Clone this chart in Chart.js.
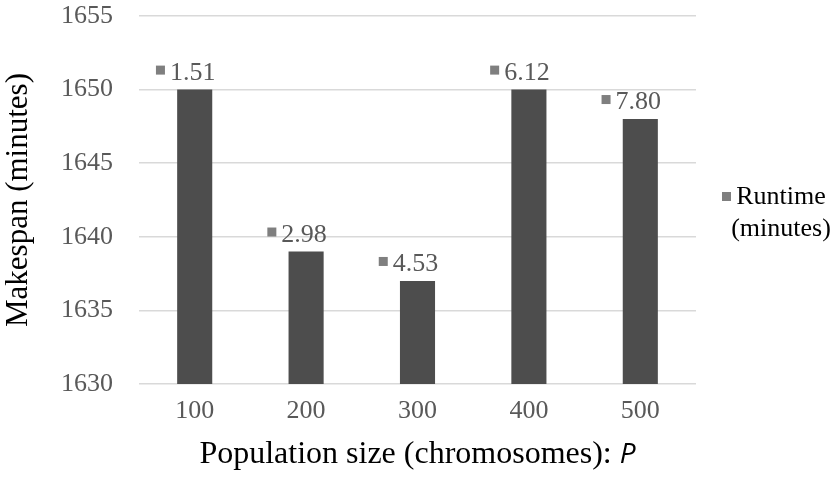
<!DOCTYPE html>
<html>
<head>
<meta charset="utf-8">
<script src="https://cdn.jsdelivr.net/npm/chart.js@4.4.1/dist/chart.umd.min.js"></script>
<style>
  html, body { margin: 0; padding: 0; background: #ffffff; }
  #wrap { width: 833px; height: 479px; position: relative; }
</style>
</head>
<body>
<div id="wrap"><canvas id="c" width="833" height="479"></canvas></div>
<script>
// Population sizes tested
const populationSizes = ['100', '200', '300', '400', '500'];
// Best makespan found for each population size (minutes)
const makespan = [1650, 1639, 1637, 1650, 1648];
// Runtime of each run (minutes), shown above the bars
const runtime = [1.51, 2.98, 4.53, 6.12, 7.80];
// Value axis range
const yMin = 1630, yMax = 1655, yStep = 5;

const SERIF = '"Liberation Serif", "Times New Roman", serif';
const BAR = '#4d4d4d';
const KEY = '#7f7f7f';
const LABEL = '#595959';

// Runtime labels with a small legend key in front of each value
const runtimeLabels = {
  id: 'runtimeLabels',
  afterDatasetsDraw(chart) {
    const ctx = chart.ctx;
    const meta = chart.getDatasetMeta(0);
    ctx.save();
    ctx.font = '26px ' + SERIF;
    ctx.textBaseline = 'alphabetic';
    meta.data.forEach((bar, i) => {
      const txt = runtime[i].toFixed(2);
      const w = ctx.measureText(txt).width;
      const cx = bar.x - 2;
      const base = bar.y - 10;
      ctx.fillStyle = LABEL;
      ctx.textAlign = 'center';
      ctx.fillText(txt, cx, base);
      ctx.fillStyle = KEY;
      ctx.fillRect(cx - w / 2 - 14, base - 14, 9, 9);
    });
    ctx.restore();
  }
};

// Axis title with the italic symbol, and the legend at the right
const extras = {
  id: 'extras',
  afterDraw(chart) {
    const ctx = chart.ctx;
    const area = chart.chartArea;
    ctx.save();
    // x-axis title
    const main = 'Population size (chromosomes): ';
    const sym = 'P';
    const mainFont = '32px ' + SERIF;
    const symFont = 'italic 28px "Open Sans", "Noto Sans", sans-serif';
    ctx.font = mainFont;
    const w1 = ctx.measureText(main).width;
    ctx.font = symFont;
    const w2 = ctx.measureText(sym).width;
    const startX = (area.left + area.right) / 2 - (w1 + w2) / 2;
    const y = 463;
    ctx.fillStyle = '#000000';
    ctx.textAlign = 'left';
    ctx.textBaseline = 'alphabetic';
    ctx.font = mainFont;
    ctx.fillText(main, startX, y);
    ctx.font = symFont;
    ctx.fillText(sym, startX + w1, y);

    // legend
    ctx.fillStyle = KEY;
    ctx.fillRect(722, 192, 9, 9);
    ctx.fillStyle = '#000000';
    ctx.font = '26px ' + SERIF;
    ctx.textAlign = 'center';
    ctx.fillText('Runtime', 781, 204);
    ctx.fillText('(minutes)', 781, 236);
    ctx.restore();
  }
};

new Chart(document.getElementById('c'), {
  type: 'bar',
  data: {
    labels: populationSizes,
    datasets: [{
      label: 'Runtime (minutes)',
      data: makespan,
      backgroundColor: BAR,
      borderWidth: 0,
      barPercentage: 0.315,
      categoryPercentage: 1.0
    }]
  },
  options: {
    responsive: false,
    animation: false,
    devicePixelRatio: 1,
    layout: { padding: { top: 16, right: 137, left: 0, bottom: 0 } },
    plugins: {
      legend: { display: false },
      tooltip: { enabled: false }
    },
    scales: {
      x: {
        grid: { display: false, drawTicks: false },
        border: { display: false },
        ticks: {
          color: LABEL,
          font: { family: SERIF, size: 26 },
          padding: 12
        },
        afterFit(scale) {
          scale.height = 95;
          scale.paddingLeft = 0;
          scale.paddingRight = 0;
        }
      },
      y: {
        min: yMin,
        max: yMax,
        grid: { color: '#d9d9d9', lineWidth: 1.5, drawTicks: false },
        border: { display: false },
        ticks: {
          stepSize: yStep,
          color: LABEL,
          font: { family: SERIF, size: 26 },
          padding: 26,
          callback: (v) => String(v)
        },
        title: {
          display: true,
          text: 'Makespan (minutes)',
          color: '#000000',
          font: { family: SERIF, size: 31 },
          padding: { top: 0, bottom: 4 }
        },
        afterFit(scale) {
          scale.width = 139;
          scale.paddingTop = 0;
          scale.paddingBottom = 0;
        }
      }
    }
  },
  plugins: [runtimeLabels, extras]
});
</script>
</body>
</html>
